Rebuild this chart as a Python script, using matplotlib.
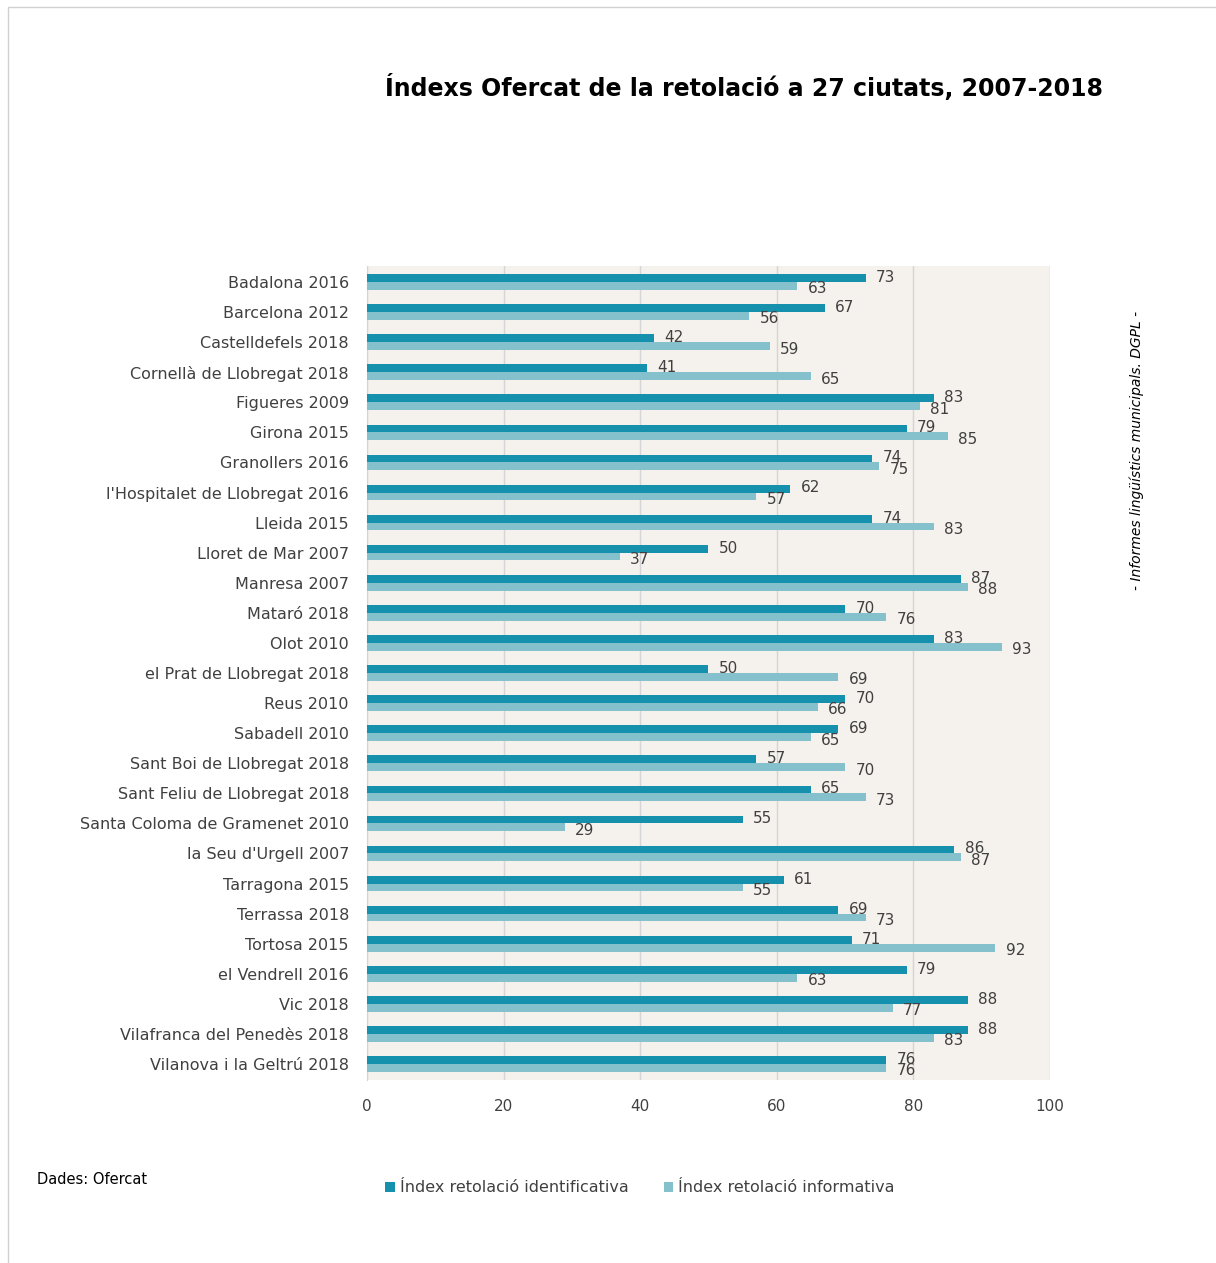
import matplotlib
matplotlib.use('Agg')
import matplotlib.pyplot as plt
from matplotlib.patches import Rectangle
import numpy as np

ciutats = ['Badalona 2016', 'Barcelona 2012', 'Castelldefels 2018', 'Cornellà de Llobregat 2018',
           'Figueres 2009', 'Girona 2015', 'Granollers 2016', "l'Hospitalet de Llobregat 2016",
           'Lleida 2015', 'Lloret de Mar 2007', 'Manresa 2007', 'Mataró 2018', 'Olot 2010',
           'el Prat de Llobregat 2018', 'Reus 2010', 'Sabadell 2010', 'Sant Boi de Llobregat 2018',
           'Sant Feliu de Llobregat 2018', 'Santa Coloma de Gramenet 2010', "la Seu d'Urgell 2007",
           'Tarragona 2015', 'Terrassa 2018', 'Tortosa 2015', 'el Vendrell 2016', 'Vic 2018',
           'Vilafranca del Penedès 2018', 'Vilanova i la Geltrú 2018']
identificativa = [73, 67, 42, 41, 83, 79, 74, 62, 74, 50, 87, 70, 83, 50, 70, 69, 57, 65, 55, 86,
                  61, 69, 71, 79, 88, 88, 76]
informativa = [63, 56, 59, 65, 81, 85, 75, 57, 83, 37, 88, 76, 93, 69, 66, 65, 70, 73, 29, 87,
               55, 73, 92, 63, 77, 83, 76]
xticks = [0, 20, 40, 60, 80, 100]

dark = '#1591AD'
light = '#85C1CC'
txt = '#404040'

fig = plt.figure(figsize=(12.16, 12.63), dpi=100)
ax = fig.add_axes([367 / 1216, 1 - 1080 / 1263, 683 / 1216, 814 / 1263])
ax.set_facecolor('#F5F1EC')

y = np.arange(len(ciutats))
h = 0.26
ax.barh(y - h / 2, identificativa, height=h, color=dark, label='Índex retolació identificativa', zorder=3)
ax.barh(y + h / 2, informativa, height=h, color=light, label='Índex retolació informativa', zorder=3)

# etiquetes de valor
for i in range(len(ciutats)):
    ax.text(identificativa[i] + 1.5, y[i] - h / 2 - 0.02, str(identificativa[i]), va='center', ha='left',
            fontsize=11, color=txt, zorder=4)
    ax.text(informativa[i] + 1.5, y[i] + h / 2 + 0.1, str(informativa[i]), va='center', ha='left',
            fontsize=11, color=txt, zorder=4)

ax.set_ylim(len(ciutats) - 0.47, -0.53)
ax.set_xlim(0, 100)
ax.set_yticks(y)
ax.set_yticklabels(ciutats, fontsize=11.5, color=txt)
ax.set_xticks(xticks)
ax.set_xticklabels([str(v) for v in xticks], fontsize=11, color=txt)
ax.tick_params(axis='both', length=0)
ax.tick_params(axis='y', pad=13)
ax.tick_params(axis='x', pad=14)
ax.grid(axis='x', color='#D5D5D5', linewidth=1, zorder=0)
for s in ['top', 'right', 'bottom']:
    ax.spines[s].set_visible(False)
ax.spines['left'].set_color('#D5D5D5')

fig.text(744 / 1216, 1 - 88 / 1263, 'Índexs Ofercat de la retolació a 27 ciutats, 2007-2018',
         ha='center', va='center', fontsize=17, fontweight='bold', color='black')
fig.text(1137 / 1216, 1 - 450 / 1263, '- Informes lingüístics municipals. DGPL -', rotation=90,
         ha='center', va='center', fontsize=10, style='italic', color='black')
fig.text(37 / 1216, 1 - 1180 / 1263, 'Dades: Ofercat', ha='left', va='center', fontsize=10.5, color='black')

fig.legend(loc='center', bbox_to_anchor=(640 / 1216, 1 - 1188 / 1263), ncol=2, frameon=False,
           fontsize=11.5, handlelength=0.6, handleheight=0.6, handletextpad=0.3, columnspacing=2.2,
           labelcolor=txt)

fig.patches.append(Rectangle((8 / 1216, -0.01), 1.1, 1 - 7 / 1263 + 0.01, transform=fig.transFigure,
                             fill=False, edgecolor='#D0D0D0', linewidth=1))

fig.savefig('out.png', dpi=100)
